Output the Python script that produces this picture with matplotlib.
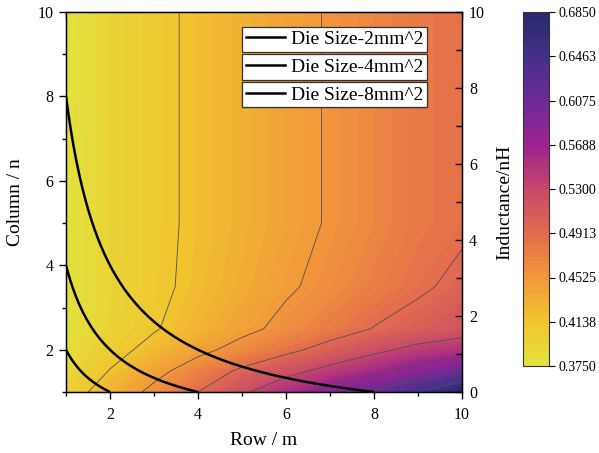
import numpy as np
import matplotlib
matplotlib.use("Agg")
import matplotlib.pyplot as plt
from matplotlib.colors import LinearSegmentedColormap
from matplotlib.lines import Line2D

# ---------------- data ----------------
rows_m = [1, 2, 3, 4, 5, 6, 7, 8, 9, 10]            # Row / m
cols_n = [1, 1.5, 2, 2.5, 3.5, 5, 10]               # Column / n
# inductance (nH) at (n, m)
ind_n1   = [0.3975, 0.4295, 0.4610, 0.4913, 0.5241, 0.5554, 0.5844, 0.6126, 0.6463, 0.6850]
ind_n1_5 = [0.3880, 0.4149, 0.4420, 0.4700, 0.4971, 0.5194, 0.5405, 0.5607, 0.5833, 0.6075]
ind_n2   = [0.3830, 0.4029, 0.4234, 0.4439, 0.4639, 0.4834, 0.5029, 0.5221, 0.5400, 0.5500]
ind_n2_5 = [0.3800, 0.3950, 0.4115, 0.4280, 0.4445, 0.4606, 0.4764, 0.4924, 0.5035, 0.5150]
ind_n3_5 = [0.3790, 0.3935, 0.4072, 0.4209, 0.4347, 0.4484, 0.4613, 0.4738, 0.4864, 0.4989]
ind_n5   = [0.3780, 0.3950, 0.4070, 0.4189, 0.4309, 0.4429, 0.4548, 0.4668, 0.4788, 0.4860]
ind_n10  = [0.3750, 0.3950, 0.4070, 0.4189, 0.4309, 0.4429, 0.4548, 0.4668, 0.4788, 0.4860]

die_sizes = [2, 4, 8]
die_labels = ["Die Size-2mm^2", "Die Size-4mm^2", "Die Size-8mm^2"]

cbar_ticks = [0.3750, 0.4138, 0.4525, 0.4913, 0.5300, 0.5688, 0.6075, 0.6463, 0.6850]
cbar_labels = ["0.3750", "0.4138", "0.4525", "0.4913", "0.5300", "0.5688", "0.6075", "0.6463", "0.6850"]

# ---------------- style ----------------
plt.rcParams['font.family'] = ['Liberation Serif', 'DejaVu Serif']

cmap_colors = ["#e2e33e", "#f1c52f", "#f2973a", "#e26b4e", "#c6486a",
               "#9d2290", "#6e2a96", "#44308a", "#262a6a"]
cmap = LinearSegmentedColormap.from_list("origin_plasma", cmap_colors)

W, H = 599, 453
fig = plt.figure(figsize=(W / 100, H / 100), dpi=100)

ax = fig.add_axes([66 / W, 61 / H, 396 / W, 380 / H])

Z = np.array([ind_n1, ind_n1_5, ind_n2, ind_n2_5, ind_n3_5, ind_n5, ind_n10])
M, N = np.meshgrid(rows_m, cols_n)

vmin, vmax = cbar_ticks[0], cbar_ticks[-1]
levels = np.linspace(vmin, vmax, 65)
cf = ax.contourf(M, N, Z, levels=levels, cmap=cmap, vmin=vmin, vmax=vmax)
ax.contour(M, N, Z, levels=cbar_ticks[1:-1], colors='#505050', linewidths=0.6)

handles = []
for s in die_sizes:
    mm = np.linspace(1, s, 300)
    ln, = ax.plot(mm, s / mm, color='black', lw=1.8, solid_capstyle='butt')
    handles.append(ln)

ax.set_xlim(1, 10)
ax.set_ylim(1, 10)
ax.set_xticks([2, 4, 6, 8, 10])
ax.set_xticks([1, 3, 5, 7, 9], minor=True)
ax.set_yticks([2, 4, 6, 8, 10])
ax.set_yticks([1, 3, 5, 7, 9], minor=True)
ax.tick_params(axis='both', which='major', direction='out', length=5, width=1, labelsize=11.5, pad=4)
ax.tick_params(axis='both', which='minor', direction='out', length=3, width=1)
ax.tick_params(axis='x', pad=6)
ax.set_xlabel("Row / m", fontsize=14, labelpad=6)
ax.set_ylabel("Column / n", fontsize=14, labelpad=10)
for sp in ax.spines.values():
    sp.set_linewidth(1.0)

# top axis (0-10 scale), ticks inward, no labels
secx = ax.secondary_xaxis('top', functions=(lambda x: (x - 1) / 0.9, lambda t: t * 0.9 + 1))
secx.set_xticks([0, 2, 4, 6, 8, 10])
secx.set_xticks([1, 3, 5, 7, 9], minor=True)
secx.tick_params(which='major', direction='in', length=5, width=1, labeltop=False)
secx.tick_params(which='minor', direction='in', length=3, width=1)

ax2 = ax.twinx()
ax2.set_ylim(0, 10)
ax2.set_yticks([0, 2, 4, 6, 8, 10])
ax2.set_yticks([1, 3, 5, 7, 9], minor=True)
ax2.tick_params(axis='y', which='major', direction='in', length=5, width=1, labelsize=11.5, pad=5)
ax2.tick_params(axis='y', which='minor', direction='in', length=4.5, width=1)
ax2.set_ylabel("Inductance/nH", fontsize=14, labelpad=8)

# legends: three stacked boxes
tops = [26.7, 54.3, 82.0]
for lab, t in zip(die_labels, tops):
    leg = ax2.legend([Line2D([], [], color='black', lw=1.8)], [lab],
                     loc='upper left', bbox_to_anchor=(242 / W, 1 - t / H),
                     bbox_transform=fig.transFigure, fontsize=14, frameon=True,
                     fancybox=False, framealpha=1, edgecolor='#333333',
                     borderpad=0.2, borderaxespad=0, handlelength=2.0,
                     handletextpad=0.3)
    leg.get_frame().set_linewidth(0.9)
    ax2.add_artist(leg)

# colorbar
cax = fig.add_axes([523 / W, (H - 366) / H, 26 / W, 354 / H])
cb = fig.colorbar(cf, cax=cax, ticks=cbar_ticks)
cb.ax.set_yticklabels(cbar_labels)
cb.ax.tick_params(direction='out', length=4, width=0.8, labelsize=10, pad=3)
cb.outline.set_linewidth(0.8)
cb.outline.set_edgecolor('#333333')

fig.savefig("out.png", dpi=100)
